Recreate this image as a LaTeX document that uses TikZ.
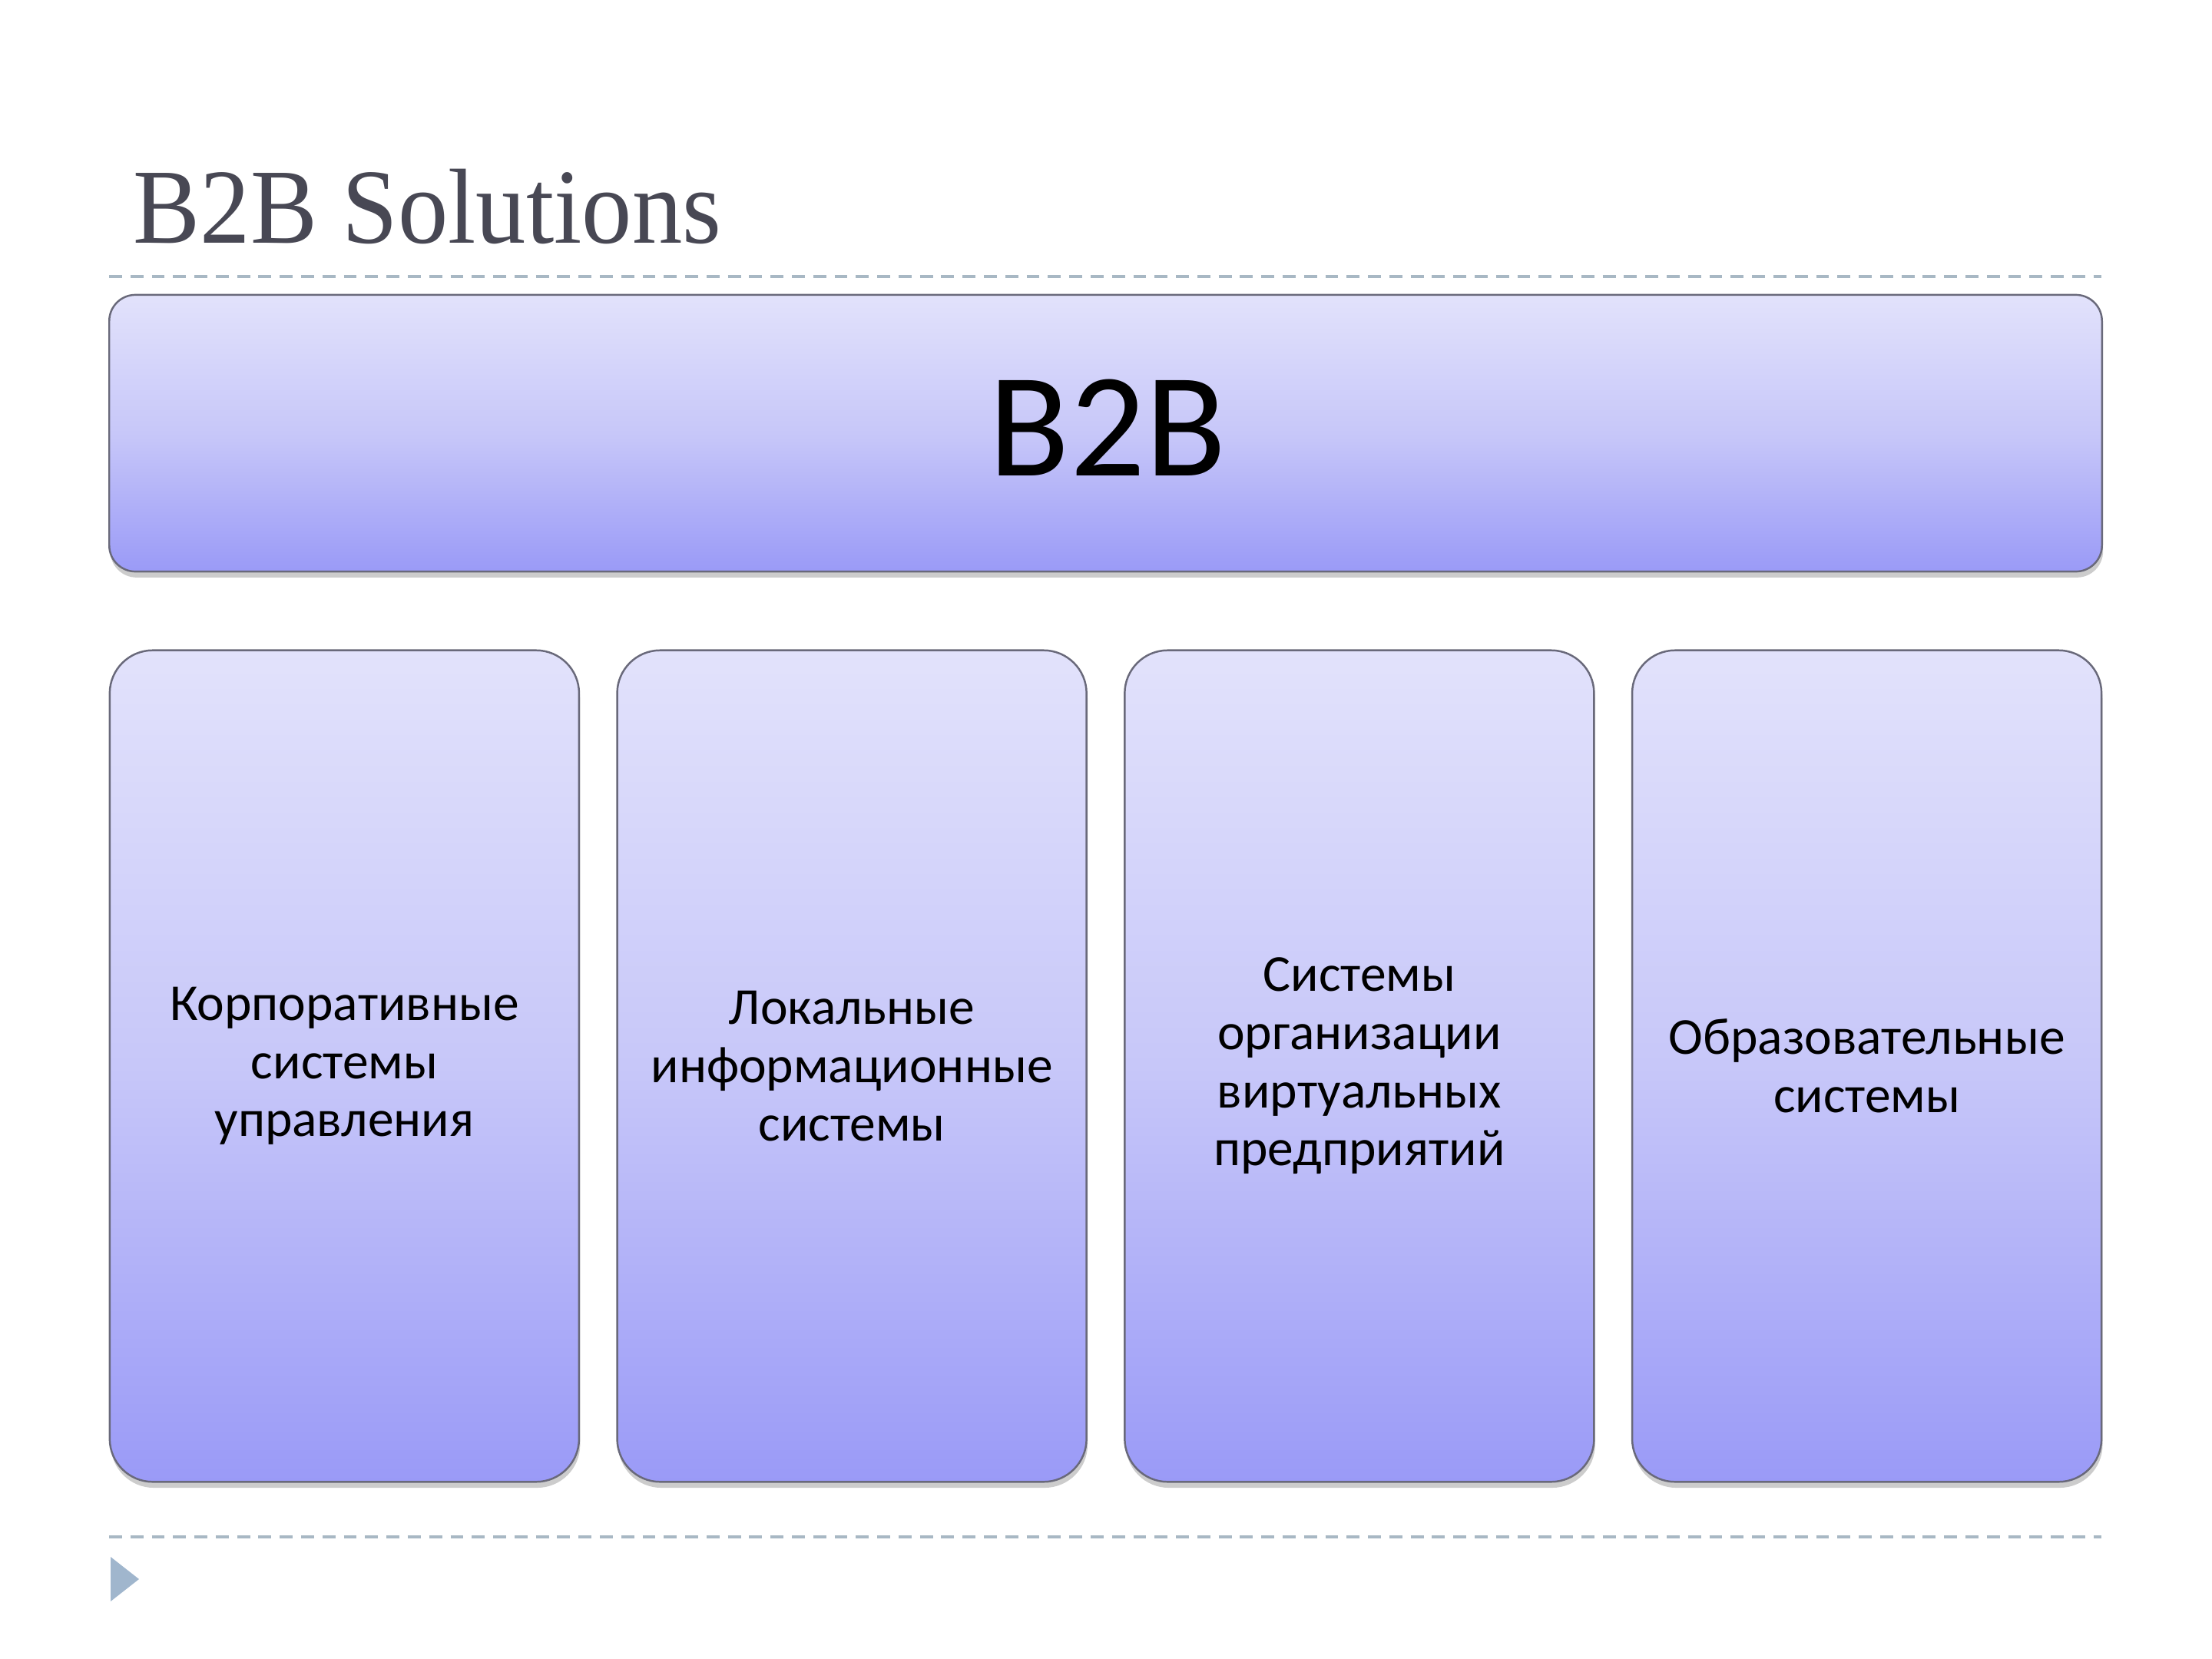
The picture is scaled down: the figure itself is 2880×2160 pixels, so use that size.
\documentclass[tikz,border=0pt]{standalone}
\usepackage{fontspec}
\setmainfont{Carlito}
\newfontfamily\titlefont[FakeStretch=0.94]{Liberation Serif}
\usetikzlibrary{shadows}
\definecolor{shtop}{RGB}{226,226,251}
\definecolor{shmid}{RGB}{199,199,249}
\definecolor{shbot}{RGB}{154,154,247}
\definecolor{dashcol}{RGB}{168,184,196}
\definecolor{tricol}{RGB}{160,182,205}
\definecolor{titlecol}{RGB}{72,72,84}
\definecolor{edgecol}{RGB}{105,105,122}
\pgfdeclareverticalshading{boxshade}{100bp}{color(0bp)=(shbot); color(25bp)=(shbot); color(50bp)=(shmid); color(75bp)=(shtop); color(100bp)=(shtop)}
\tikzset{
  sepline/.style={draw=dashcol, line width=1.15pt, dash pattern=on 4.8pt off 3.1pt},
  gradbox/.style={rectangle, draw=edgecol, line width=0.7pt, shading=boxshade,
    drop shadow={opacity=0.2, shadow xshift=0.4pt, shadow yshift=-2.2pt, fill=black},
    align=center, inner sep=0pt},
  colbox/.style={gradbox, rounded corners=0.56cm, minimum width=6.1075cm, minimum height=10.82cm,
    font=\fontsize{19.2}{21.5}\selectfont},
}
\begin{document}
\begin{tikzpicture}[x=0.01cm, y=-0.01cm]
\useasboundingbox (0,0) rectangle (2880,2160);
% title
\node[anchor=base west, inner sep=0pt, text=titlecol, font=\titlefont\fontsize{39.5}{47}\selectfont] (title) at (173,316) {B2B Solutions};
% separators
\coordinate (s1a) at (142,360);
\coordinate (s1b) at (2736,360);
\coordinate (s2a) at (142,2001);
\coordinate (s2b) at (2736,2001);
\draw[sepline] (s1a) -- (s1b);
\draw[sepline] (s2a) -- (s2b);
% top box
\node[gradbox, rounded corners=0.34cm, minimum width=25.93cm, minimum height=3.6cm] (top) at (1439.5,564) {};
\node[anchor=base, inner sep=0pt, font=\fontsize{55}{60}\selectfont] (toplabel) at (1442,619) {B2B};
% column boxes
\node[colbox] (c1) at (448.4,1388) {Корпоративные\\системы\\управления};
\node[colbox] (c2) at (1109.1,1388) {Локальные\\информационные\\системы};
\node[colbox] (c3) at (1769.9,1388) {Системы\\организации\\виртуальных\\предприятий};
\node[colbox] (c4) at (2430.6,1388) {Образовательные\\системы};
% bullet triangle
\fill[tricol] (144,2027) -- (181,2056) -- (144,2085) -- cycle;
\end{tikzpicture}
\end{document}
